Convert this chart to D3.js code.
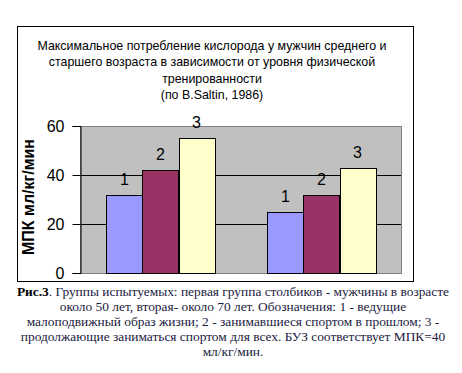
<!DOCTYPE html>
<html><head><meta charset="utf-8">
<script src="https://cdn.jsdelivr.net/npm/d3@7"></script>
<style>body{margin:0;background:#fff}svg{display:block}</style>
</head><body>
<script>
const groups = ["около 50 лет", "около 70 лет"];
const series = ["1", "2", "3"];
const values = [[32, 42, 55], [25, 32, 43]];
const colors = ["#9999FF", "#993366", "#FFFFCC"];
const yTicks = [0, 20, 40, 60];
const titleLines = ["Максимальное потребление кислорода у мужчин среднего и",
  "старшего возраста в зависимости от уровня физической",
  "тренированности", "(по B.Saltin, 1986)"];
const yLabel = "МПК мл/кг/мин";
const captionLines = [
  ["Рис.3", ". Группы испытуемых: первая группа столбиков - мужчины в возрасте"],
  ["", "около 50 лет, вторая- около 70 лет. Обозначения: 1 - ведущие"],
  ["", "малоподвижный образ жизни; 2 - занимавшиеся спортом в прошлом; 3 -"],
  ["", "продолжающие заниматься спортом для всех. БУЗ соответствует МПК=40"],
  ["", "мл/кг/мин."]];

const W = 462, H = 373;
const svg = d3.select("body").append("svg").attr("width", W).attr("height", H);

// chart frame
svg.append("rect").attr("x", 17.5).attr("y", 26.5).attr("width", 396).attr("height", 255)
  .attr("fill", "#fff").attr("stroke", "#000").attr("stroke-width", 1);

// title
const title = svg.append("text").attr("font-family", "Arial, 'Liberation Sans', sans-serif")
  .attr("font-size", 12.4).attr("fill", "#000").attr("text-anchor", "middle");
titleLines.forEach((t, i) => title.append("tspan").attr("x", 212).attr("y", 50 + i * 16.3).text(t));

const plot = {l: 80, r: 402, t: 126, b: 273};
const x0 = d3.scaleBand().domain(groups).range([plot.l, plot.r]).paddingInner(0).paddingOuter(0);
const x1 = d3.scaleBand().domain(series).range([0, x0.bandwidth()]).paddingOuter(0.735);
const y = d3.scaleLinear().domain([0, 60]).range([plot.b, plot.t]);

svg.append("rect").attr("x", plot.l).attr("y", plot.t).attr("width", plot.r - plot.l)
  .attr("height", plot.b - plot.t).attr("fill", "#C0C0C0");

// gridlines
svg.append("g").selectAll("line").data(yTicks.filter(d => d > 0 && d < 60)).join("line")
  .attr("x1", plot.l).attr("x2", plot.r)
  .attr("y1", d => Math.round(y(d)) + 0.5).attr("y2", d => Math.round(y(d)) + 0.5)
  .attr("stroke", "#000");

// plot border
svg.append("rect").attr("x", plot.l + 0.5).attr("y", plot.t + 0.5).attr("width", plot.r - plot.l - 1)
  .attr("height", plot.b - plot.t).attr("fill", "none").attr("stroke", "#808080");

// bars
const g = svg.append("g");
groups.forEach((grp, gi) => {
  series.forEach((s, si) => {
    const v = values[gi][si];
    const bx = x0(grp) + x1(s);
    g.append("rect").attr("x", Math.round(bx) + 0.5).attr("y", Math.round(y(v)) + 0.5)
      .attr("width", Math.round(x1.bandwidth())).attr("height", Math.round(y(0)) - Math.round(y(v)))
      .attr("fill", colors[si]).attr("stroke", "#000").attr("stroke-width", 1);
    g.append("text").attr("x", bx + x1.bandwidth() / 2).attr("y", y(v) - 10)
      .attr("text-anchor", "middle").attr("font-family", "Arial, 'Liberation Sans', sans-serif")
      .attr("font-size", 16).text(s);
  });
});

// y axis
const yAxis = d3.axisLeft(y).tickValues(yTicks).tickSize(8).tickPadding(8).tickFormat(d3.format("d"));
const ya = svg.append("g").attr("transform", `translate(${plot.l + 0.5},0)`).call(yAxis);
ya.select(".domain").attr("stroke", "#000");
ya.selectAll(".tick line").attr("stroke", "#000");
ya.selectAll(".tick text").attr("font-family", "Arial, 'Liberation Sans', sans-serif")
  .attr("font-size", 16).attr("fill", "#000");

svg.append("text").attr("transform", "translate(34,197) rotate(-90)").attr("text-anchor", "middle")
  .attr("font-family", "Arial, 'Liberation Sans', sans-serif").attr("font-weight", "bold")
  .attr("font-size", 16).text(yLabel);

// caption
const cap = svg.append("g").attr("font-family", "'Times New Roman', 'Liberation Serif', serif")
  .attr("font-size", 13.4);
captionLines.forEach((ln, i) => {
  const t = cap.append("text").attr("x", 233).attr("y", 296 + i * 15).attr("text-anchor", "middle");
  if (ln[0]) t.append("tspan").attr("font-weight", "bold").attr("fill", "#000").text(ln[0]);
  t.append("tspan").attr("fill", "#1a1a40").text(ln[1]);
});
</script>
</body></html>
